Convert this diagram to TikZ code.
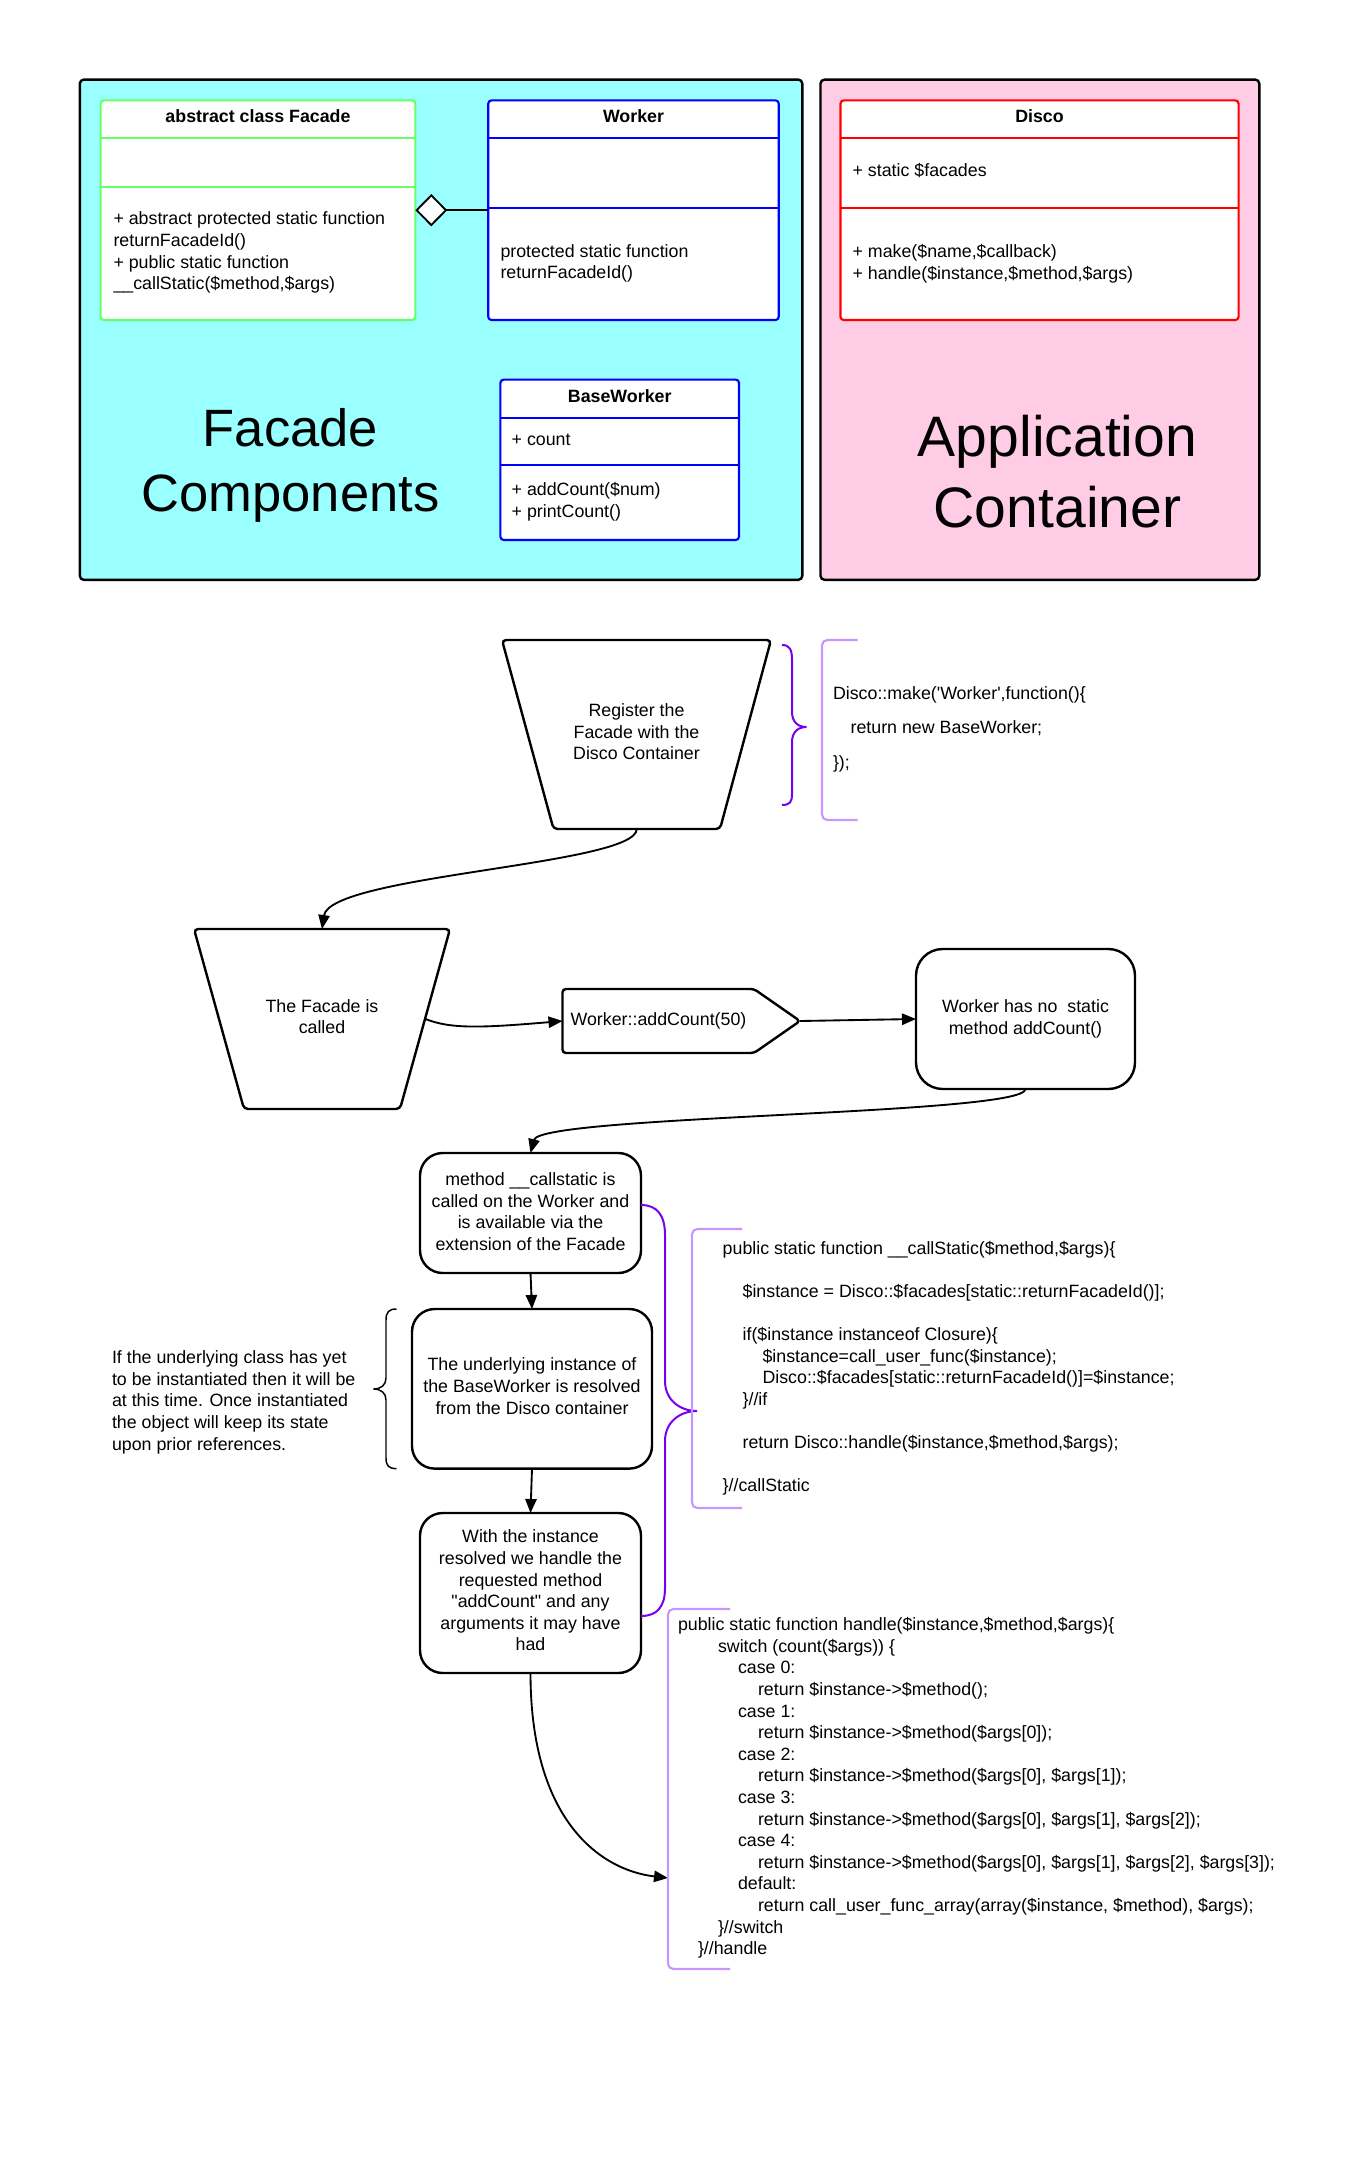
\documentclass[tikz,border=0pt]{standalone}
\usepackage{fontspec}
\setmainfont{Liberation Sans}
\newfontfamily\af{Liberation Sans}
\usetikzlibrary{arrows.meta,shapes.geometric}
\definecolor{cyanfill}{RGB}{153,255,255}
\definecolor{pinkfill}{RGB}{255,204,230}
\definecolor{umlgreen}{RGB}{102,255,102}
\definecolor{umlblue}{RGB}{0,0,255}
\definecolor{umlred}{RGB}{255,0,0}
\definecolor{bracedark}{RGB}{120,0,240}
\definecolor{bracelight}{RGB}{200,150,255}
\newcommand\codeline[4]{\node[txt,anchor=west] (#1) at (#2,#3) {#4};}
\newcommand\lowdepth[1]{\rule[-#1]{0pt}{#1}}
\begin{document}
\begin{tikzpicture}[x=0.75pt,y=-0.75pt,
  txt/.style={font=\af\fontsize{13.35}{16.2}\selectfont, inner sep=0pt, outer sep=0pt, text height=9.56pt, text depth=0pt},
  mtxt/.style={font=\af\fontsize{13.35}{16.2}\selectfont, inner sep=0pt, outer sep=0pt},
  boldtxt/.style={font=\af\bfseries\fontsize{13.35}{16.2}\selectfont},
  container/.style={draw=black, line width=1.8pt, rounded corners=3pt},
  umlbox/.style={draw, fill=white, line width=1.6pt, rounded corners=2.5pt, inner sep=0pt, outer sep=0pt},
  fbox/.style={mtxt, draw=black, fill=white, line width=1.8pt, rounded corners=17pt, align=center},
  trapline/.style={draw=black, fill=white, line width=1.8pt, rounded corners=3pt},
  arr/.style={line width=1.4pt, -{Triangle[length=10.5pt,width=8.5pt]}},
  conn/.style={line width=1.6pt},
  brace/.style={draw=bracedark, line width=1.5pt},
  lightbr/.style={draw=bracelight, line width=1.6pt, rounded corners=4pt}
]
\useasboundingbox (0,0) rectangle (1360,2165);
\fill[white] (0,0) rectangle (1360,2165);

% containers
\draw[container, fill=cyanfill] (79.8,79.6) rectangle (802.3,579.8);
\draw[container, fill=pinkfill] (820.5,79.6) rectangle (1259.3,579.8);

% abstract class Facade
\node[umlbox, draw=umlgreen, minimum width={314.8*0.75pt}, minimum height={219.7*0.75pt}] (FC) at (258,210.2) {};
\draw[umlgreen, line width=1.6pt] (100.6,137.8) -- (415.4,137.8);
\draw[umlgreen, line width=1.6pt] (100.6,187.1) -- (415.4,187.1);
\node[txt, boldtxt] (FCt) at (258,116) {abstract class Facade};
\node[mtxt, align=left, anchor=west] (FCm) at (113.5,252.6) {+ abstract protected static function\\returnFacadeId()\\+ public static function\\\_\_callStatic(\$method,\$args)};

% Worker
\node[umlbox, draw=umlblue, minimum width={290.5*0.75pt}, minimum height={219.7*0.75pt}] (WK) at (633.5,210.2) {};
\draw[umlblue, line width=1.6pt] (488.3,137.8) -- (778.8,137.8);
\draw[umlblue, line width=1.6pt] (488.3,208.2) -- (778.8,208.2);
\node[txt, boldtxt] (WKt) at (633.5,116) {Worker};
\node[mtxt, align=left, anchor=west] (WKm) at (500.5,263.5) {protected static function\\returnFacadeId()};

% aggregation diamond
\node[diamond, draw=black, fill=white, line width=1.4pt, inner sep=0pt, outer sep=0pt, minimum width={29.3*0.75pt}, minimum height={29.7*0.75pt}] (D) at (431.3,210.2) {};
\draw[conn] (D) -- (WK);

% Disco
\node[umlbox, draw=umlred, minimum width={398.1*0.75pt}, minimum height={219.7*0.75pt}] (DC) at (1039.5,210.2) {};
\draw[umlred, line width=1.6pt] (840.4,137.8) -- (1238.5,137.8);
\draw[umlred, line width=1.6pt] (840.4,208.2) -- (1238.5,208.2);
\node[txt, boldtxt] (DCt) at (1039.5,116) {Disco};
\node[txt, anchor=west] (DCa) at (852.6,170) {+ static \$facades};
\node[mtxt, align=left, anchor=west] (DCm) at (852.6,263.8) {+ make(\$name,\$callback)\\+ handle(\$instance,\$method,\$args)};

% BaseWorker
\node[umlbox, draw=umlblue, minimum width={238.6*0.75pt}, minimum height={160.4*0.75pt}] (BW) at (619.7,459.8) {};
\draw[umlblue, line width=1.6pt] (500.4,417.9) -- (739,417.9);
\draw[umlblue, line width=1.6pt] (500.4,465) -- (739,465);
\node[txt, boldtxt] (BWt) at (619.7,396) {BaseWorker};
\node[txt, anchor=west] (BWa) at (511.7,439) {+ count};
\node[mtxt, align=left, anchor=west] (BWm) at (511.7,501.5) {+ addCount(\$num)\\+ printCount()};

% big labels
\node[font=\af\fontsize{39.4}{48.8}\selectfont, align=center, inner sep=0pt] (FCL) at (290.5,465.5) {Facade\\Components};
\node[font=\af\fontsize{42.8}{53}\selectfont, align=center, inner sep=0pt] (ACL) at (1057.5,471.7) {Application\\Container};

% ---- flow chart ----
\draw[trapline] (502,640) -- (771,640) -- (720,829) -- (553.5,829) -- cycle;
\node[mtxt, align=center] (T1) at (636.5,732) {Register the\\Facade with the\\Disco Container};
\coordinate (T1b) at (636.75,829);

\draw[trapline] (194,929) -- (450,929) -- (400,1109) -- (244,1109) -- cycle;
\node[mtxt, align=center] (T2) at (322,1016.5) {The Facade is\\called};
\coordinate (T2t) at (322,929);
\coordinate (T2r) at (425.5,1019);

\draw[line width=1.8pt, rounded corners=2.5pt] (562.5,989) -- (754,989) -- (800,1021) -- (754,1053) -- (562.5,1053) -- cycle;
\coordinate (Pl) at (562.5,1021);
\coordinate (Pt) at (800,1021);
\node[txt, anchor=west] (P) at (570.6,1019) {Worker::addCount(50)};

\node[fbox, rounded corners=20pt, minimum width={219*0.75pt}, minimum height={140*0.75pt}] (W) at (1025.5,1019) {Worker has no\ \ static\\method addCount()\lowdepth{1.5pt}};
\node[fbox, minimum width={221*0.75pt}, minimum height={120*0.75pt}] (A) at (530.5,1213) {method \_\_callstatic is\\called on the Worker and\\is available via the\\extension of the Facade\lowdepth{2pt}};
\node[fbox, minimum width={240*0.75pt}, minimum height={159.6*0.75pt}] (B) at (532,1388.8) {The underlying instance of\\the BaseWorker is resolved\\from the Disco container\lowdepth{4pt}};
\node[fbox, minimum width={221*0.75pt}, minimum height={160*0.75pt}] (C) at (530.5,1593) {With the instance\\resolved we handle the\\requested method\\"addCount" and any\\arguments it may have\\had\lowdepth{4pt}};

\node[mtxt, align=left, anchor=west] (N) at (112,1402.2) {If the underlying class has yet\\to be instantiated then it will be\\at this time. Once instantiated\\the object will keep its state\\upon prior references.};

% connectors
\draw[arr] (T1b) .. controls +(0,36) and +(8,-54) .. (T2t);
\draw[arr] (T2r) .. controls +(25,10) and +(-82,7) .. (Pl);
\draw[arr] (Pt) -- (W.west);
\draw[arr] (W.south) .. controls +(0,26) and +(10,-38) .. (A.north);
\draw[arr] (A.south) -- (B.north);
\draw[arr] (B.south) -- (C.north);
\coordinate (H) at (668,1878);
\draw[arr] (C.south) .. controls +(0,147) and +(-68,-8) .. (H);

% braces and brackets
\draw[brace] (782,645) .. controls (790,645) and (792,650) .. (792,660) -- (792,712) .. controls (792,722) and (798,727) .. (806.5,727) .. controls (798,727) and (792,732) .. (792,742) -- (792,794) .. controls (792,802) and (790,805) .. (782,805);
\draw[brace] (641,1205) .. controls (657,1205) and (665,1215) .. (665,1235) -- (665,1381) .. controls (665,1400) and (680,1411) .. (697,1411) .. controls (680,1411) and (665,1422) .. (665,1441) -- (665,1588) .. controls (665,1607) and (657,1616) .. (641,1616);
\draw[line width=1.1pt] (396.5,1309) .. controls (389,1309) and (386,1312) .. (386,1320) -- (386,1378) .. controls (386,1385) and (381,1389) .. (373.5,1389) .. controls (381,1389) and (386,1393) .. (386,1400) -- (386,1458) .. controls (386,1466) and (389,1468.6) .. (396.5,1468.6);
\draw[lightbr] (857.5,640) -- (822,640) -- (822,820) -- (857.5,820);
\draw[lightbr] (742,1229) -- (692,1229) -- (692,1508) -- (742,1508);
\draw[lightbr] (730,1609) -- (668,1609) -- (668,1969) -- (730,1969);

% code 1
\codeline{ca1}{833}{693}{Disco::make('Worker',function()\{}
\codeline{ca2}{850.6}{727.5}{return new BaseWorker;}
\codeline{ca3}{833}{762}{\});}

% code 2
\codeline{cb1}{722.7}{1248}{public static function \_\_callStatic(\$method,\$args)\{}
\codeline{cb2}{742.6}{1291.2}{\$instance = Disco::\$facades[static::returnFacadeId()];}
\codeline{cb3}{742.6}{1334.4}{if(\$instance instanceof Closure)\{}
\codeline{cb4}{762.5}{1356}{\$instance=call\_user\_func(\$instance);}
\codeline{cb5}{762.5}{1377.6}{Disco::\$facades[static::returnFacadeId()]=\$instance;}
\codeline{cb6}{742.6}{1399.2}{\}//if}
\codeline{cb7}{742.6}{1442.4}{return Disco::handle(\$instance,\$method,\$args);}
\codeline{cb8}{722.7}{1485.6}{\}//callStatic}

% code 3
\codeline{cc1}{678}{1624.3}{public static function handle(\$instance,\$method,\$args)\{}
\codeline{cc2}{718}{1645.9}{switch (count(\$args)) \{}
\codeline{cc3}{738}{1667.5}{case 0:}
\codeline{cc4}{758}{1689.1}{return \$instance->\$method();}
\codeline{cc5}{738}{1710.7}{case 1:}
\codeline{cc6}{758}{1732.3}{return \$instance->\$method(\$args[0]);}
\codeline{cc7}{738}{1753.9}{case 2:}
\codeline{cc8}{758}{1775.5}{return \$instance->\$method(\$args[0], \$args[1]);}
\codeline{cc9}{738}{1797.1}{case 3:}
\codeline{cc10}{758}{1818.7}{return \$instance->\$method(\$args[0], \$args[1], \$args[2]);}
\codeline{cc11}{738}{1840.3}{case 4:}
\codeline{cc12}{758}{1861.9}{return \$instance->\$method(\$args[0], \$args[1], \$args[2], \$args[3]);}
\codeline{cc13}{738}{1883.5}{default:}
\codeline{cc14}{758}{1905.1}{return call\_user\_func\_array(array(\$instance, \$method), \$args);}
\codeline{cc15}{718}{1926.7}{\}//switch}
\codeline{cc16}{698}{1948.3}{\}//handle}
\end{tikzpicture}
\end{document}
